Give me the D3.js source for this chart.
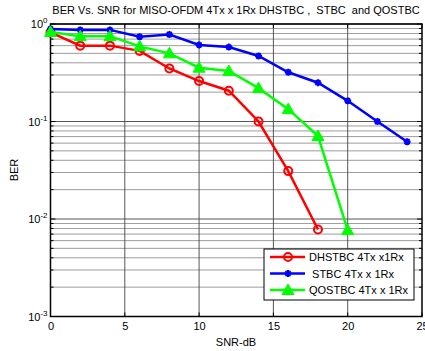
<!DOCTYPE html>
<html><head><meta charset="utf-8">
<script src="https://cdn.jsdelivr.net/npm/d3@7"></script>
<style>body{margin:0;background:#fff}svg{display:block}text{font-family:"Liberation Sans",Arial,sans-serif}</style>
</head><body>
<script>
const snr = [0,2,4,6,8,10,12,14,16,18,20,22,24];
const dhstbc = [0.82,0.60,0.60,0.53,0.35,0.26,0.207,0.10,0.031,0.0078];
const stbc = [0.89,0.87,0.87,0.74,0.78,0.61,0.58,0.47,0.32,0.25,0.163,0.10,0.062];
const qostbc = [0.83,0.75,0.75,0.59,0.50,0.356,0.33,0.22,0.134,0.071,0.0077];
const xTicks = [0,5,10,15,20,25];
const yTicks = [1,0.1,0.01,0.001];
const seriesNames = ["DHSTBC 4Tx x1Rx"," STBC 4Tx x 1Rx","QOSTBC 4Tx x 1Rx"];
const titleText = "BER Vs. SNR for MISO-OFDM 4Tx x 1Rx DHSTBC ,  STBC  and QOSTBC";

const W=425,H=351;
const m={l:50.5,r:3,t:24,b:34.5};
const svg=d3.select("body").append("svg").attr("width",W).attr("height",H);
const x=d3.scaleLinear().domain([0,25]).range([m.l,W-m.r]);
const y=d3.scaleLog().domain([0.001,1]).range([H-m.b,m.t]);

// grid
const g=svg.append("g");
const minor=[];
for(let e=-3;e<0;e++) for(let k=2;k<=9;k++) minor.push(k*Math.pow(10,e));
g.selectAll(".mg").data(minor).enter().append("line")
 .attr("x1",m.l).attr("x2",W-m.r).attr("y1",d=>y(d)).attr("y2",d=>y(d))
 .attr("stroke","#666").attr("stroke-width",0.8).attr("opacity",0.8);
g.selectAll(".Mg").data(yTicks).enter().append("line")
 .attr("x1",m.l).attr("x2",W-m.r).attr("y1",d=>y(d)).attr("y2",d=>y(d))
 .attr("stroke","#444").attr("stroke-width",0.9);
g.selectAll(".vg").data(xTicks.slice(1,-1)).enter().append("line")
 .attr("y1",m.t).attr("y2",H-m.b).attr("x1",d=>x(d)).attr("x2",d=>x(d))
 .attr("stroke","#444").attr("stroke-width",0.9);

// axes
const fontSize=11;
const ax=d3.axisBottom(x).tickValues(xTicks).tickSize(0).tickPadding(6).tickFormat(d3.format("d"));
const xa=svg.append("g").attr("transform",`translate(0,${H-m.b})`).call(ax);
xa.select(".domain").remove();
xa.selectAll("text").attr("font-size",fontSize).attr("fill","#000").attr("font-family","Liberation Sans, Arial, sans-serif");
// tick marks inward on bottom & top
svg.selectAll(".xt").data(xTicks).enter().append("line")
 .attr("x1",d=>x(d)).attr("x2",d=>x(d)).attr("y1",H-m.b).attr("y2",H-m.b-4).attr("stroke","#000");
svg.selectAll(".xtt").data(xTicks).enter().append("line")
 .attr("x1",d=>x(d)).attr("x2",d=>x(d)).attr("y1",m.t).attr("y2",m.t+4).attr("stroke","#000");
// y ticks inward both sides
const allY=yTicks.concat(minor);
svg.selectAll(".yt").data(allY).enter().append("line")
 .attr("x1",m.l).attr("x2",d=>m.l+(yTicks.includes(d)?5:3)).attr("y1",d=>y(d)).attr("y2",d=>y(d)).attr("stroke","#000");
svg.selectAll(".ytr").data(allY).enter().append("line")
 .attr("x1",W-m.r).attr("x2",d=>W-m.r-(yTicks.includes(d)?5:3)).attr("y1",d=>y(d)).attr("y2",d=>y(d)).attr("stroke","#000");
// y labels 10^e
const yl=svg.selectAll(".yl").data(yTicks).enter().append("text")
 .attr("x",m.l-6).attr("y",d=>y(d)+4).attr("text-anchor","end").attr("font-size",fontSize);
yl.append("tspan").text("10");
yl.append("tspan").attr("dy",-5).attr("font-size",8).text(d=>Math.round(Math.log10(d)));
yl.attr("x",m.l-3);

// box
svg.append("rect").attr("x",m.l).attr("y",m.t).attr("width",W-m.r-m.l).attr("height",H-m.b-m.t)
 .attr("fill","none").attr("stroke","#000").attr("stroke-width",1.5);

// lines
const line=d3.line().x((d,i)=>x(snr[i])).y(d=>y(d));
const colors=["#ff0000","#0000ff","#00ff00"];
const data=[dhstbc,stbc,qostbc];
const pg=svg.append("g");
function marker(sel,k,cx,cy){
 if(k===0){sel.append("circle").attr("cx",cx).attr("cy",cy).attr("r",4).attr("fill","none").attr("stroke",colors[0]).attr("stroke-width",2);}
 else if(k===1){
  const s=3.5;
  sel.append("path").attr("d",`M${cx-s},${cy}L${cx+s},${cy}M${cx},${cy-s}L${cx},${cy+s}M${cx-s*0.7},${cy-s*0.7}L${cx+s*0.7},${cy+s*0.7}M${cx-s*0.7},${cy+s*0.7}L${cx+s*0.7},${cy-s*0.7}`)
   .attr("stroke",colors[1]).attr("stroke-width",2);
 } else {
  const s=6;
  sel.append("path").attr("d",`M${cx},${cy-s}L${cx+s},${cy+s*0.75}L${cx-s},${cy+s*0.75}Z`).attr("fill",colors[2]).attr("stroke",colors[2]).attr("stroke-width",1);
 }
}
data.forEach((arr,k)=>{
 pg.append("path").datum(arr).attr("d",line).attr("fill","none").attr("stroke",colors[k]).attr("stroke-width",2.5);
 arr.forEach((v,i)=>marker(pg,k,x(snr[i]),y(v)));
});

// legend
const lg=svg.append("g");
lg.append("rect").attr("x",264).attr("y",249).attr("width",150).attr("height",51).attr("fill","#fff").attr("stroke","#000").attr("stroke-width",1);
seriesNames.forEach((n,k)=>{
 const ly=257+k*16.5;
 lg.append("line").attr("x1",270).attr("x2",305).attr("y1",ly).attr("y2",ly).attr("stroke",colors[k]).attr("stroke-width",2.5);
 marker(lg,k,288,ly);
 lg.append("text").attr("x",309).attr("y",ly+4).attr("font-size",fontSize).attr("xml:space","preserve").style("white-space","pre").text(n);
});

// title & labels
svg.append("text").attr("x",236).attr("y",14).attr("text-anchor","middle").attr("font-size",fontSize).style("white-space","pre").text(titleText);
svg.append("text").attr("x",236).attr("y",346).attr("text-anchor","middle").attr("font-size",fontSize).text("SNR-dB");
svg.append("text").attr("transform","translate(18,170) rotate(-90)").attr("text-anchor","middle").attr("font-size",fontSize).text("BER");
</script>
</body></html>
